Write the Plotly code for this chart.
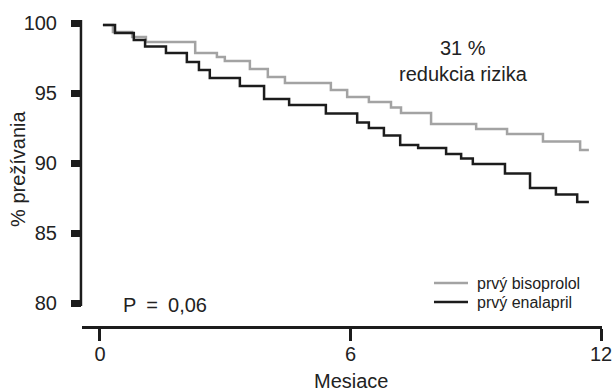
import plotly.graph_objects as go

# Kaplan-Meier style survival curves (months, % survival)
bisoprolol_months = [0.07, 0.31, 0.77, 1.10, 2.28, 2.80, 2.99, 3.59, 4.02, 4.43, 5.53,
                     5.92, 6.44, 6.97, 7.21, 7.93, 9.01, 9.75, 10.61, 11.50, 11.71]
bisoprolol_surv = [99.86, 99.36, 99.0, 98.64, 97.86, 97.57, 97.29, 96.71, 96.14, 95.71, 95.21,
                   94.71, 94.36, 93.96, 93.57, 92.79, 92.43, 92.07, 91.54, 90.93, 90.93]

enalapril_months = [0.07, 0.36, 0.81, 1.08, 1.58, 2.08, 2.37, 2.63, 3.35, 3.93, 4.53, 5.41,
                    6.16, 6.44, 6.80, 7.19, 7.62, 8.29, 8.65, 8.93, 9.70, 10.30, 10.92, 11.43, 11.71]
enalapril_surv = [99.86, 99.29, 98.79, 98.32, 97.86, 97.21, 96.64, 96.07, 95.5, 94.57, 94.14, 93.54,
                  92.89, 92.5, 91.96, 91.29, 91.07, 90.64, 90.32, 89.93, 89.25, 88.21, 87.75, 87.21, 87.21]

series_names = ["prvý bisoprolol", "prvý enalapril"]
series_colors = ["#a3a3a3", "#1c1c1c"]

x_ticks = [0, 6, 12]
y_ticks = [80, 85, 90, 95, 100]

FONT = "Liberation Sans, Arial, Helvetica, sans-serif"
TXT = "#222222"

fig = go.Figure()
fig.add_trace(go.Scatter(x=bisoprolol_months, y=bisoprolol_surv, mode="lines",
                         line=dict(shape="hv", color=series_colors[0], width=2.5),
                         name=series_names[0], showlegend=False))
fig.add_trace(go.Scatter(x=enalapril_months, y=enalapril_surv, mode="lines",
                         line=dict(shape="hv", color=series_colors[1], width=2.5),
                         name=series_names[1], showlegend=False))

fig.update_layout(
    width=614, height=388,
    margin=dict(l=82, r=12, t=18, b=62, autoexpand=False),
    paper_bgcolor="white", plot_bgcolor="white",
    font=dict(family=FONT, color=TXT, size=20),
    showlegend=False,
    xaxis=dict(range=[-0.431, 12.024], tickvals=x_ticks, ticktext=[str(v) for v in x_ticks],
               showline=True, linecolor="#1c1c1c", linewidth=2.5,
               ticks="outside", ticklen=12, tickwidth=2.5, tickcolor="#1c1c1c",
               showgrid=False, zeroline=False, tickfont=dict(size=20), ticklabelstandoff=-4),
    yaxis=dict(range=[78.357, 100.357], tickvals=y_ticks, ticktext=[str(v) for v in y_ticks],
               showline=False, ticks="outside", ticklen=10, tickwidth=7, tickcolor="#1c1c1c",
               showgrid=False, zeroline=False, tickfont=dict(size=20), ticklabelstandoff=10),
)

# y-axis spine (stops just below 80)
fig.add_shape(type="line", xref="paper", yref="y", x0=-0.002, x1=-0.002, y0=79.79, y1=100.21,
              line=dict(color="#1c1c1c", width=2.5))

# manual legend (compact rows as in the reference)
legend_rows_y = [0.1396, 0.0779]
for name, color, ly in zip(series_names, series_colors, legend_rows_y):
    fig.add_shape(type="line", xref="paper", yref="paper", x0=0.6769, x1=0.7423, y0=ly, y1=ly,
                  line=dict(color=color, width=2.5))
    fig.add_annotation(text=name, xref="paper", yref="paper", x=0.7558, y=ly,
                       xanchor="left", yanchor="middle", showarrow=False,
                       font=dict(size=16, color=TXT))

fig.add_annotation(text="% prežívania", xref="paper", yref="paper", x=-0.123, y=0.51,
                   xanchor="center", yanchor="middle",
                   textangle=-90, showarrow=False, font=dict(size=20))
fig.add_annotation(text="Mesiace", xref="x", yref="paper", x=6, y=-0.178,
                   xanchor="center", yanchor="middle", showarrow=False, font=dict(size=20))
fig.add_annotation(text="31 %", xref="paper", yref="paper", x=0.733, y=0.903,
                   xanchor="center", yanchor="middle", showarrow=False, font=dict(size=20))
fig.add_annotation(text="redukcia rizika", xref="paper", yref="paper", x=0.733, y=0.818,
                   xanchor="center", yanchor="middle", showarrow=False, font=dict(size=20))
fig.add_annotation(text="P\u2002=\u20020,06", xref="paper", yref="paper", x=0.159, y=0.068,
                   xanchor="center", yanchor="middle", showarrow=False, font=dict(size=20))

fig.write_html("out.html", config={"displayModeBar": False},
               post_script="document.body.style.margin='0';")
